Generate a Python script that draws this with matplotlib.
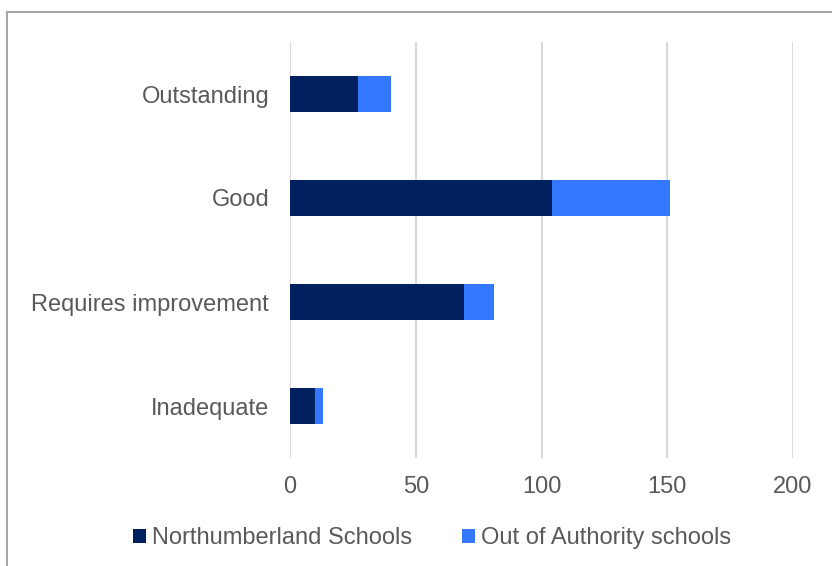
import matplotlib.pyplot as plt
from matplotlib.patches import Rectangle

categories = ["Outstanding", "Good", "Requires improvement", "Inadequate"]
northumberland = [27, 104, 69, 10]
out_of_authority = [13, 47, 12, 3]
series_names = ["Northumberland Schools", "Out of Authority schools"]
xticks = [0, 50, 100, 150, 200]

plt.rcParams['font.family'] = ['Liberation Sans', 'DejaVu Sans']
text_col = '#595959'
fs = 17

fig = plt.figure(figsize=(8.32, 5.66), dpi=100)
W, H = 832, 566

# chart frame (only left and top edges fall inside the image)
fig.patches.append(Rectangle((7 / W, -0.1), 1.0, 1 - 12 / H + 0.1,
                             transform=fig.transFigure, fill=False,
                             edgecolor='#a6a6a6', linewidth=1.5))

ax = fig.add_axes([290 / W, 1 - 458 / H, (793 - 290) / W, (458 - 42) / H])

y = list(range(len(categories)))
ax.barh(y, northumberland, height=0.35, color='#002060', label=series_names[0], zorder=3)
ax.barh(y, out_of_authority, left=northumberland, height=0.35, color='#3378FF',
        label=series_names[1], zorder=3)

ax.set_ylim(len(categories) - 0.5, -0.5)
ax.set_yticks(y)
ax.set_yticklabels(categories)
ax.set_xlim(0, 200)
ax.set_xticks(xticks)
ax.grid(axis='x', color='#d9d9d9', linewidth=1.5, zorder=0)
for s in ax.spines.values():
    s.set_visible(False)
ax.tick_params(length=0, labelsize=fs, labelcolor=text_col)
ax.tick_params(axis='y', pad=15)
ax.tick_params(axis='x', pad=13)

leg = fig.legend(loc='center', bbox_to_anchor=(432 / W, 1 - 538 / H), ncol=2,
                 frameon=False, fontsize=fs, handlelength=0.55, handleheight=0.55,
                 handletextpad=0.25, columnspacing=2.1, borderpad=0)
for t in leg.get_texts():
    t.set_color(text_col)

fig.savefig('out.png', dpi=100)
